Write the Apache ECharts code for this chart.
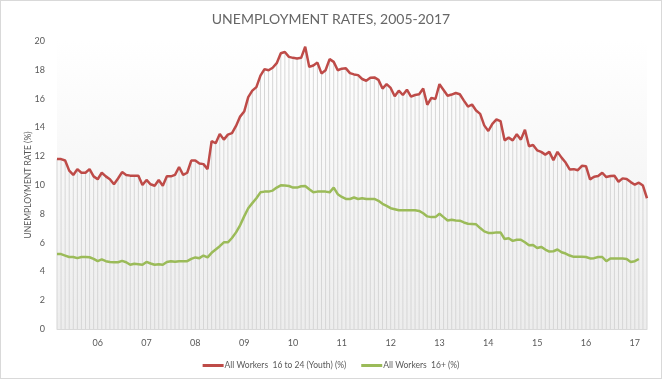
<!DOCTYPE html>
<html>
<head>
<meta charset="utf-8">
<script src="https://cdn.jsdelivr.net/npm/echarts@6/dist/echarts.min.js"></script>
<style>
html,body{margin:0;padding:0;background:#fff;}
#chart{width:662px;height:379px;box-sizing:border-box;border:1px solid #d9d9d9;}
</style>
</head>
<body>
<div id="chart"></div>
<script>
// Monthly categories: Mar 2005 .. Apr 2017
const startYear = 2005, startMonth = 3, monthCount = 146;
const months = [];
for (let i = 0; i < monthCount; i++) {
  const m = (startMonth - 1 + i) % 12 + 1;
  const y = startYear + Math.floor((startMonth - 1 + i) / 12);
  months.push(y + '-' + (m < 10 ? '0' + m : m));
}
const yearTickLabels = ['06','07','08','09','10','11','12','13','14','15','16','17'];

const youth = [
  11.8,11.8,11.7,11.0,10.7,11.1,10.85,10.85,11.1,10.6,
  10.4,10.85,10.6,10.4,10.05,10.45,10.9,10.7,10.65,10.65,
  10.65,10.0,10.35,10.05,9.95,10.35,9.95,10.6,10.6,10.7,
  11.25,10.7,10.85,11.7,11.7,11.5,11.45,11.1,13.05,12.9,
  13.55,13.15,13.5,13.6,14.1,14.75,15.1,16.1,16.55,16.8,
  17.6,18.05,17.97,18.14,18.46,19.15,19.24,18.9,18.83,18.78,
  18.83,19.6,18.2,18.3,18.5,17.75,17.97,18.74,18.55,17.97,
  18.08,18.1,17.77,17.68,17.63,17.36,17.24,17.45,17.47,17.3,
  16.7,17.0,16.74,16.16,16.55,16.25,16.62,16.14,16.25,16.3,
  16.7,15.57,16.05,15.97,17.0,16.6,16.2,16.28,16.39,16.3,
  15.86,15.45,15.59,15.17,14.94,14.14,13.75,14.25,14.55,14.44,
  13.1,13.29,13.1,13.52,13.15,13.84,12.69,12.78,12.41,12.3,
  12.11,12.3,11.72,12.3,11.9,11.56,11.08,11.1,11.03,11.33,
  11.31,10.39,10.57,10.62,10.85,10.55,10.62,10.64,10.23,10.46,
  10.41,10.2,10.02,10.16,9.96,9.08
];
const allWorkers = [
  5.2,5.2,5.1,5.0,5.0,4.92,5.0,5.0,4.98,4.87,
  4.71,4.83,4.71,4.66,4.64,4.64,4.73,4.64,4.46,4.53,
  4.5,4.46,4.66,4.55,4.46,4.5,4.46,4.65,4.71,4.67,
  4.71,4.71,4.71,4.87,4.97,4.92,5.1,4.97,5.29,5.52,
  5.75,6.02,6.02,6.32,6.71,7.2,7.82,8.39,8.74,9.08,
  9.49,9.54,9.54,9.61,9.82,9.98,9.96,9.93,9.82,9.82,
  9.91,9.93,9.7,9.49,9.54,9.54,9.54,9.49,9.82,9.36,
  9.17,9.03,9.03,9.13,9.03,9.08,9.03,9.03,9.03,8.9,
  8.69,8.55,8.39,8.32,8.25,8.25,8.25,8.25,8.25,8.2,
  8.04,7.82,7.77,7.77,8.0,7.77,7.54,7.59,7.54,7.52,
  7.4,7.31,7.29,7.27,7.01,6.78,6.67,6.67,6.71,6.71,
  6.25,6.3,6.12,6.2,6.2,6.02,5.82,5.84,5.63,5.7,
  5.52,5.38,5.4,5.52,5.33,5.24,5.1,5.01,5.01,5.01,
  5.0,4.9,4.92,5.0,5.0,4.71,4.9,4.9,4.9,4.9,
  4.86,4.66,4.71,4.86
];
const seriesNames = ['All Workers  16 to 24 (Youth) (%)', 'All Workers  16+ (%)'];

const chart = echarts.init(document.getElementById('chart'), null, {renderer: 'canvas'});
const txt = '#595959';
chart.setOption({
  animation: false,
  textStyle: {fontFamily: 'Lato, "Open Sans", sans-serif'},
  title: {
    text: 'UNEMPLOYMENT RATES, 2005-2017',
    left: 'center', top: 6,
    textStyle: {fontSize: 14, fontWeight: 'normal', color: '#666666', fontFamily: 'Lato'}
  },
  legend: {
    data: seriesNames,
    bottom: 3, left: 'center',
    icon: 'rect', itemWidth: 21, itemHeight: 3, itemGap: 15,
    textStyle: {fontSize: 8.5, color: txt, padding: [0,0,0,-4]}
  },
  grid: {
    left: 56, right: 14, top: 40, bottom: 49,
    show: true, borderWidth: 0,
    backgroundColor: new echarts.graphic.LinearGradient(0, 0, 0, 1, [
      {offset: 0, color: '#ffffff'},
      {offset: 1, color: '#ededed'}
    ])
  },
  xAxis: {
    type: 'category', data: months, boundaryGap: false,
    axisTick: {show: false},
    axisLine: {lineStyle: {color: '#d9d9d9', width: 1}},
    axisLabel: {
      color: txt, fontSize: 9, margin: 10,
      interval: function (idx, val) { return val.slice(5) === '01'; },
      formatter: function (val) {
        const yy = val.slice(2, 4);
        return yearTickLabels.indexOf(yy) >= 0 ? yy : '';
      }
    },
    splitLine: {show: false}
  },
  yAxis: {
    type: 'value', min: 0, max: 20, interval: 2,
    name: 'UNEMPLOYMENT RATE (%)', nameLocation: 'middle', nameRotate: 90, nameGap: 24,
    nameMoveOverlap: false,
    nameTextStyle: {fontSize: 8.5, color: txt},
    axisLine: {show: false}, axisTick: {show: false},
    axisLabel: {color: txt, fontSize: 9, margin: 12},
    splitLine: {show: false}
  },
  series: [
    {
      name: 'drop', type: 'bar', data: youth, barWidth: 1, silent: true,
      itemStyle: {color: '#d6d6d6'}, z: 1, legendHoverLink: false
    },
    {
      name: seriesNames[0], type: 'line', data: youth, symbol: 'none',
      lineStyle: {color: '#be4b48', width: 2.5}, itemStyle: {color: '#be4b48'}, z: 3
    },
    {
      name: seriesNames[1], type: 'line', data: allWorkers, symbol: 'none',
      lineStyle: {color: '#9bbb59', width: 2.5}, itemStyle: {color: '#9bbb59'}, z: 3
    }
  ]
});
</script>
</body>
</html>
